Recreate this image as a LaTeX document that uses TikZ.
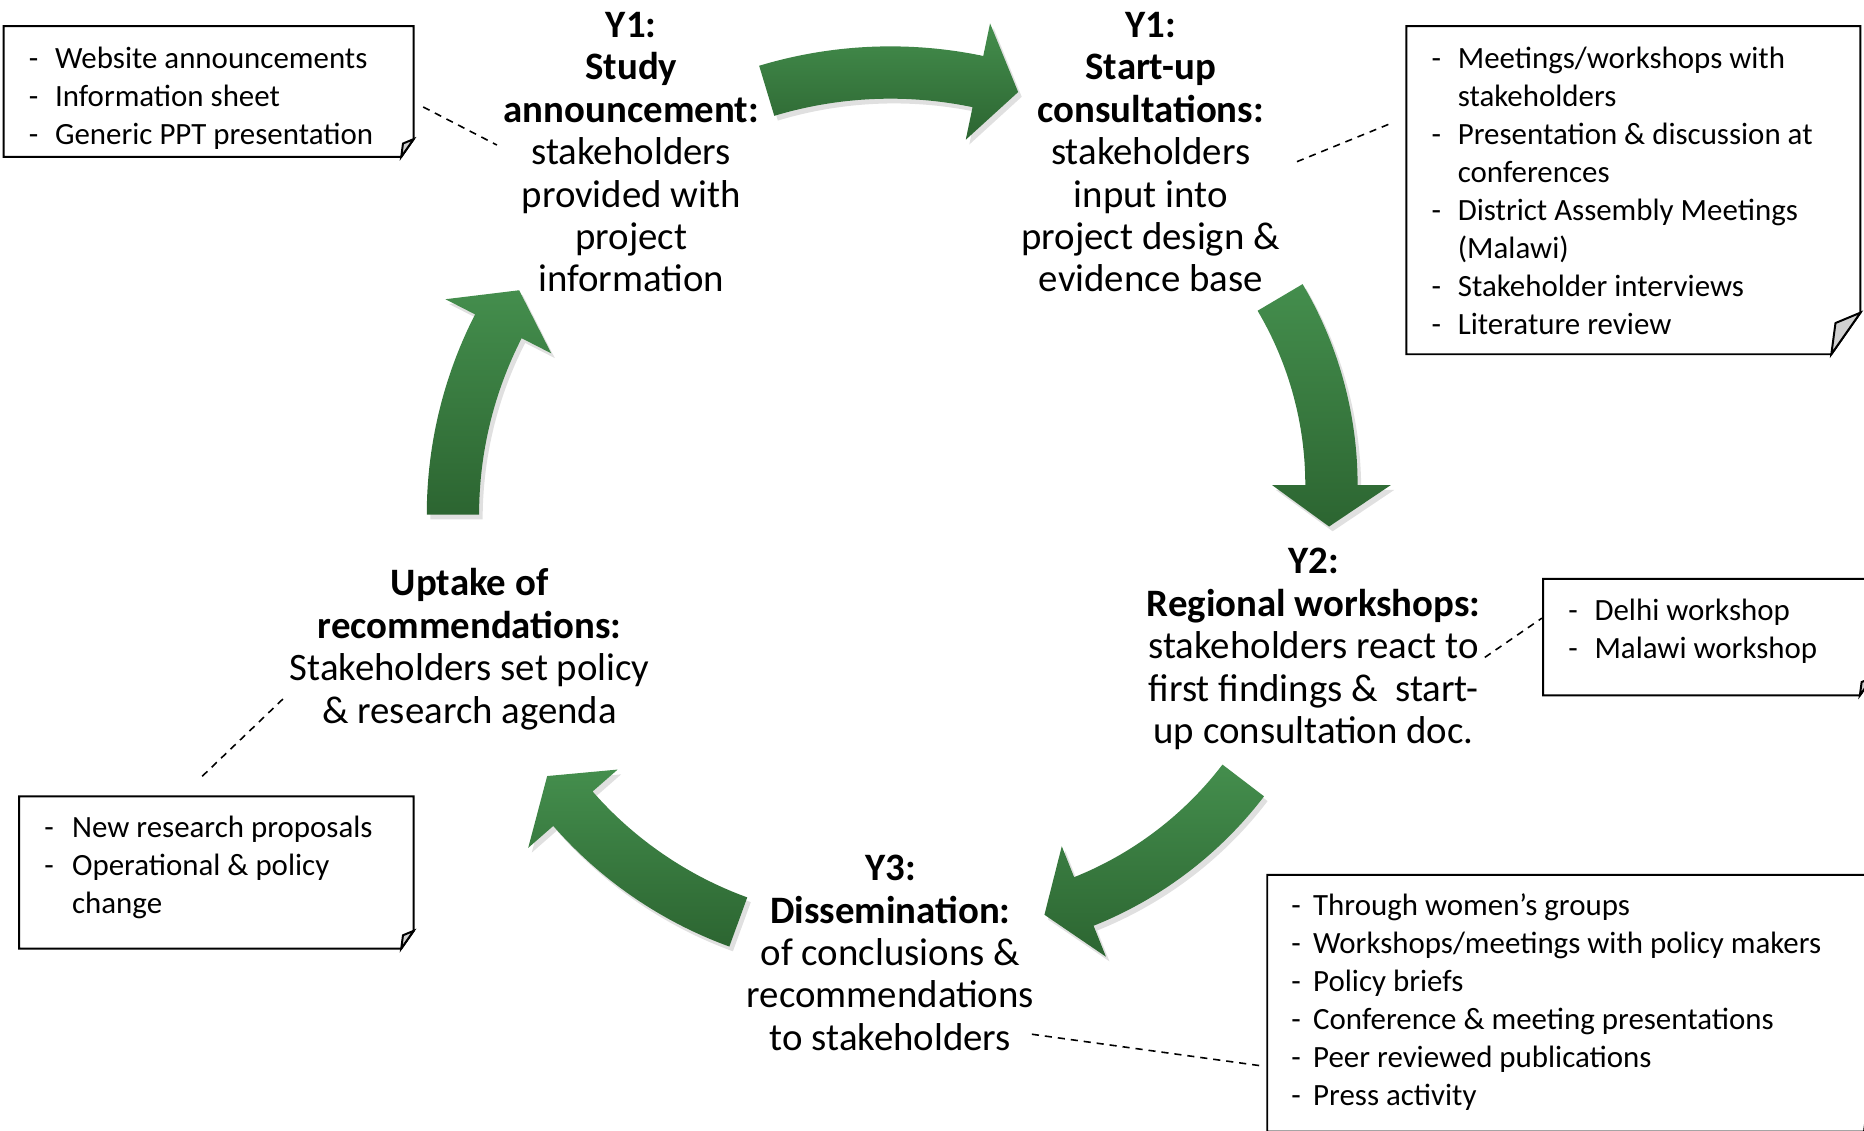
\documentclass[tikz,border=0pt]{standalone}
\usepackage{fontspec}
\setmainfont{Carlito}

\definecolor{arrowlight}{RGB}{68,142,77}
\definecolor{arrowdark}{RGB}{44,101,49}
\definecolor{foldgrey}{RGB}{208,208,208}

\tikzset{
	arrowfill/.style={shading=axis, top color=arrowlight, middle color=arrowlight, bottom color=arrowdark},
	stagetext/.style={align=center, inner sep=0pt, anchor=north, font=\fontsize{19.6}{21.4}\selectfont},
	notetext/.style={anchor=north west, align=left, inner sep=0pt, font=\fontsize{15.6}{19.2}\selectfont},
	leader/.style={dash pattern=on 3.6pt off 3pt, line width=0.8pt},
	noteline/.style={line width=1pt}
}

% bent block arrow: centre x, centre y, radius, start angle, end angle
\newcommand{\bentpath}[6]{
	\path[#1] ([shift={(#2,#3)}]{#5}:{#4+22}) arc[start angle={#5}, end angle={#6}, radius={#4+22}]
		-- ([shift={(#2,#3)}]{#6}:{#4+50}) -- ([shift={(#2,#3)}]{#6+35/#4*57.3}:{#4})
		-- ([shift={(#2,#3)}]{#6}:{#4-50}) -- ([shift={(#2,#3)}]{#6}:{#4-22})
		arc[start angle={#6}, end angle={#5}, radius={#4-22}] -- cycle;
}
\newcommand{\bentarrow}[5]{
	\bentpath{fill=black, opacity=0.12, shift={(3,4)}}{#1}{#2}{#3}{#4}{#5}
	\bentpath{arrowfill}{#1}{#2}{#3}{#4}{#5}
}
% note outline with the turned-up corner: x1, y1, x2, y2, fold
\newcommand{\noteframe}[5]{
	\draw[noteline] (#1,#2) -- (#3,#2) -- (#3,#4-#5) -- (#3-0.7*#5,#4) -- (#1,#4) -- cycle;
	\filldraw[noteline, fill=foldgrey] (#3,#4-#5) -- (#3-0.6*#5,#4-0.75*#5) -- (#3-0.7*#5,#4) -- cycle;
}
\newcommand{\dashitem}[1][13.2pt]{\makebox[#1][l]{-}}

\begin{document}
\begin{tikzpicture}[x=0.6pt, y=-0.6pt]
	\useasboundingbox (0,0) rectangle (1568,951);
	\clip (0,0) rectangle (1568,951);

	\bentarrow{749}{421}{360}{-106.8}{-78.2}
	\bentarrow{810}{408}{310}{-30.6}{0}
	\bentarrow{794}{464}{317}{37.4}{68.2}
	\bentarrow{737}{457}{339}{110}{138.8}
	\bentarrow{729}{433}{348}{180}{207.1}

	\node[stagetext] (announce) at (531,10) {\textbf{Y1:}\\\textbf{Study}\\\textbf{announcement:}\\stakeholders\\provided with\\project\\information};
	\node[stagetext] (consult) at (968,10) {\textbf{Y1:}\\\textbf{Start-up}\\\textbf{consultations:}\\stakeholders\\input into\\project design \&\\evidence base};
	\node[stagetext] (regional) at (1105,461) {\textbf{Y2:}\\\textbf{Regional workshops:}\\stakeholders react to\\first findings \&~~start-\\up consultation doc.};
	\node[stagetext] (dissem) at (749,719) {\textbf{Y3:}\\\textbf{Dissemination:}\\of conclusions \&\\recommendations\\to stakeholders};
	\node[stagetext] (uptake) at (395,478) {\textbf{Uptake of}\\\textbf{recommendations:}\\Stakeholders set policy\\\& research agenda};

	\noteframe{3}{22}{348}{132}{15}
	\node[notetext] (webnote) at (24,35) {\strut\dashitem Website announcements\\\dashitem Information sheet\\\dashitem Generic PPT presentation};
	\noteframe{1183}{22}{1565}{298}{35}
	\node[notetext] (meetnote) at (1204,35) {\strut\dashitem Meetings/workshops with\\\hspace*{13.2pt}stakeholders\\\dashitem Presentation \& discussion at\\\hspace*{13.2pt}conferences\\\dashitem District Assembly Meetings\\\hspace*{13.2pt}(Malawi)\\\dashitem Stakeholder interviews\\\dashitem Literature review};
	\noteframe{1298}{487}{1575}{585}{15}
	\node[notetext] (worknote) at (1319,499) {\strut\dashitem Delhi workshop\\\dashitem Malawi workshop};
	\noteframe{16}{670}{348}{798}{15}
	\node[notetext] (changenote) at (37,682) {\strut\dashitem[14pt]New research proposals\\\dashitem[14pt]Operational \& policy\\\hspace*{14pt}change};
	\noteframe{1066}{736}{1582}{952}{20}
	\node[notetext] (pressnote) at (1086,747) {\strut\dashitem[11pt]Through women’s groups\\\dashitem[11pt]Workshops/meetings with policy makers\\\dashitem[11pt]Policy briefs\\\dashitem[11pt]Conference \& meeting presentations\\\dashitem[11pt]Peer reviewed publications\\\dashitem[11pt]Press activity};

	\coordinate (d1a) at (356,90);
	\coordinate (d1b) at (418,122);
	\coordinate (d2a) at (1091,136);
	\coordinate (d2b) at (1172,103);
	\coordinate (d3a) at (1249,553);
	\coordinate (d3b) at (1297,520);
	\coordinate (d4a) at (238,588);
	\coordinate (d4b) at (168,655);
	\coordinate (d5a) at (868,870);
	\coordinate (d5b) at (1064,897);
	\draw[leader] (d1a) -- (d1b);
	\draw[leader] (d2a) -- (d2b);
	\draw[leader] (d3a) -- (d3b);
	\draw[leader] (d4a) -- (d4b);
	\draw[leader] (d5a) -- (d5b);
\end{tikzpicture}
\end{document}
